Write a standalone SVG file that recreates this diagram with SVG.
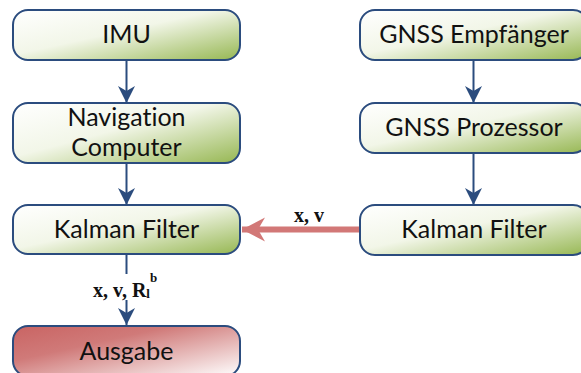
<svg xmlns="http://www.w3.org/2000/svg" width="581" height="373" viewBox="0 0 581 373">
  <defs>
    <linearGradient id="gGreen" x1="0" y1="0" x2="1" y2="1">
      <stop offset="0" stop-color="#ffffff"/>
      <stop offset="0.45" stop-color="#f2f6e8"/>
      <stop offset="1" stop-color="#96b752"/>
    </linearGradient>
    <linearGradient id="gRed" x1="0" y1="0" x2="1" y2="1">
      <stop offset="0" stop-color="#c96463"/>
      <stop offset="0.35" stop-color="#d07a79"/>
      <stop offset="1" stop-color="#ffffff"/>
    </linearGradient>
    <marker id="headBlue" markerUnits="userSpaceOnUse" markerWidth="18" markerHeight="18" viewBox="0 0 18 18" refX="17" refY="9" orient="auto">
      <path d="M0,0.5 L17,9 L0,17.5 L5,9 Z" fill="#2b4c7e"/>
    </marker>
    <marker id="headRed" markerUnits="userSpaceOnUse" markerWidth="24" markerHeight="26" viewBox="0 0 24 26" refX="23" refY="13" orient="auto">
      <path d="M0,1 L23,13 L0,25 L7,13 Z" fill="#d27877"/>
    </marker>
  </defs>
  <style>
    .box { stroke: #2b4c7e; stroke-width: 2; }
    .green { fill: url(#gGreen); }
    .red { fill: url(#gRed); }
    .lbl { font-family: Lato, "Liberation Sans", sans-serif; font-size: 25px; fill: #111111; text-anchor: middle; font-variant-ligatures: none; }
    .edge { font-family: "Liberation Serif", serif; font-weight: bold; font-size: 20px; fill: #111111; }
    .link { stroke: #2b4c7e; stroke-width: 2; fill: none; marker-end: url(#headBlue); }
    .fuse { stroke: #d27877; stroke-width: 6; fill: none; marker-end: url(#headRed); }
  </style>

  <g id="connectors">
    <path class="link" d="M126.5,60 V103"/>
    <path class="link" d="M126.5,163 V205"/>
    <path class="link" d="M473.5,60 V103"/>
    <path class="link" d="M473.5,153 V205"/>
    <path d="M126.5,254 V274" stroke="#2b4c7e" stroke-width="2"/>
    <path class="link" d="M126.5,300 V325"/>
    <path class="fuse" d="M360,229.5 H242"/>
    <text class="edge" x="294" y="222">x, v</text>
    <text class="edge" x="93" y="297">x, v, R<tspan font-size="13" dy="1">l</tspan><tspan font-size="13" dy="-16">b</tspan></text>
  </g>

  <g id="imu">
    <rect class="box green" x="13" y="10" width="227" height="50" rx="15"/>
    <text class="lbl" x="126.5" y="43">IMU</text>
  </g>
  <g id="nav-computer">
    <rect class="box green" x="13" y="103" width="227" height="60" rx="15"/>
    <text class="lbl" x="126.5" y="126">Navigation</text>
    <text class="lbl" x="126.5" y="156">Computer</text>
  </g>
  <g id="kalman-ins">
    <rect class="box green" x="13" y="205" width="227" height="49" rx="15"/>
    <text class="lbl" x="126.5" y="238">Kalman Filter</text>
  </g>
  <g id="ausgabe">
    <rect class="box red" x="13" y="326" width="227" height="50" rx="15"/>
    <text class="lbl" x="126.5" y="360">Ausgabe</text>
  </g>
  <g id="gnss-receiver">
    <rect class="box green" x="360" y="10" width="228" height="50" rx="15"/>
    <text class="lbl" x="474" y="43">GNSS Empfänger</text>
  </g>
  <g id="gnss-processor">
    <rect class="box green" x="360" y="103" width="228" height="50" rx="15"/>
    <text class="lbl" x="474" y="136">GNSS Prozessor</text>
  </g>
  <g id="kalman-gnss">
    <rect class="box green" x="360" y="205" width="228" height="50" rx="15"/>
    <text class="lbl" x="474" y="238">Kalman Filter</text>
  </g>
</svg>
